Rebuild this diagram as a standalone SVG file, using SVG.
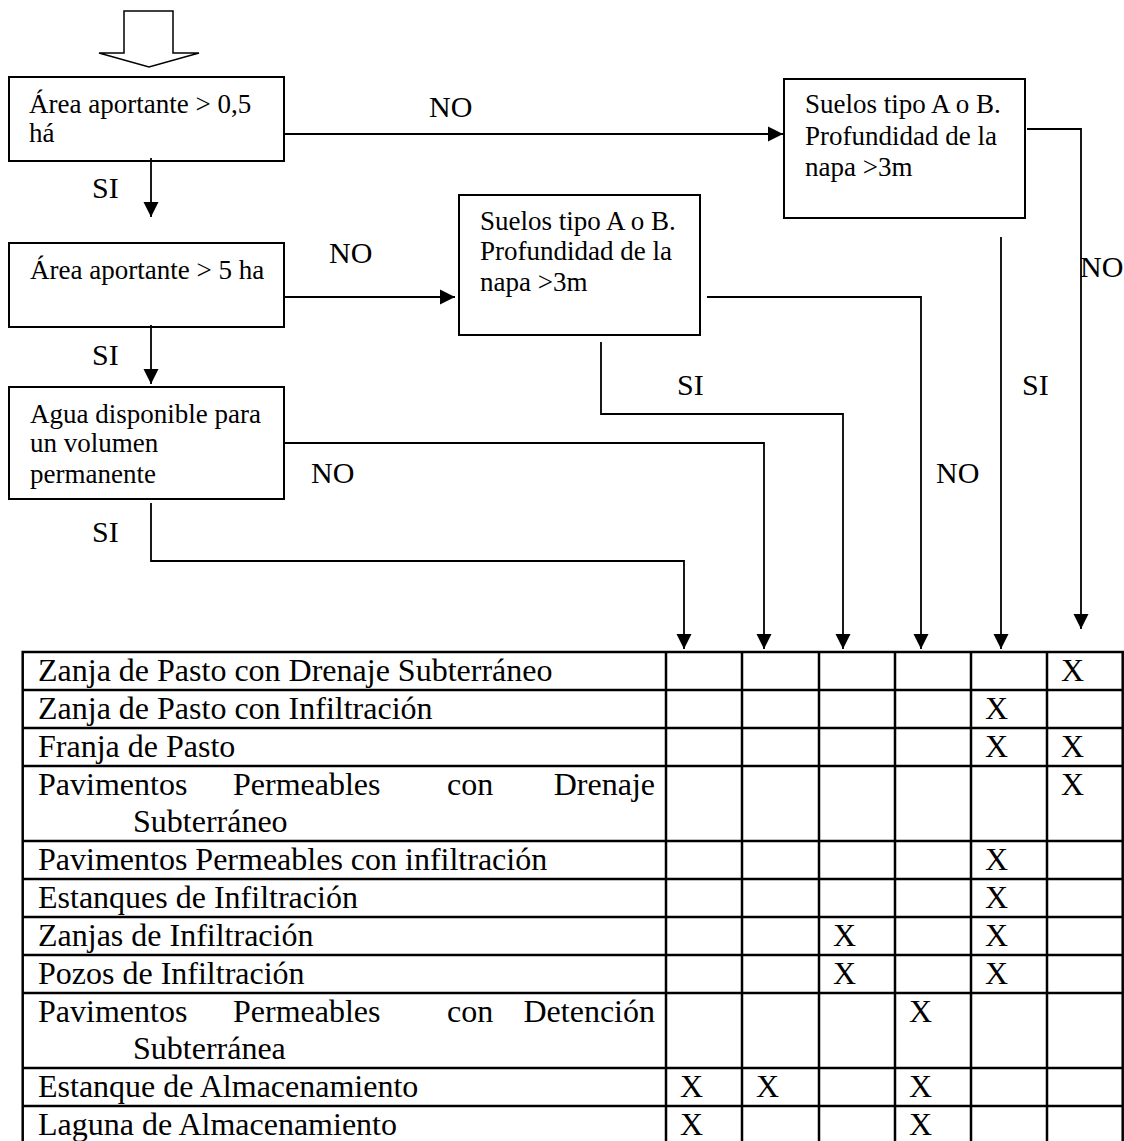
<svg xmlns="http://www.w3.org/2000/svg" width="1124" height="1141" viewBox="0 0 1124 1141">
<style>
text{font-family:"Liberation Serif","Times New Roman",serif;fill:#000}
.bt{font-size:27px}
.lb{font-size:30px}
.tt{font-size:32px}
.box{fill:#fff;stroke:#000;stroke-width:2}
.cn{fill:none;stroke:#000;stroke-width:1.8}
.tb{fill:none;stroke:#000;stroke-width:2.5}
</style>
<defs>
<marker id="ah" markerWidth="16" markerHeight="16" viewBox="0 0 16 16" refX="15" refY="8" orient="auto" markerUnits="userSpaceOnUse">
<path d="M0,0.5 L15,8 L0,15.5 Z" fill="#000"/>
</marker>
</defs>
<g id="start">
<polygon points="124,11 173,11 173,53 199,53 149,67 99,53 124,53" fill="#fff" stroke="#000" stroke-width="1.5"/>
</g>
<g id="n1">
<rect class="box" x="9" y="77" width="275" height="84"/>
<text class="bt" x="29" y="113">Área aportante &gt; 0,5</text>
<text class="bt" x="29" y="142">há</text>
</g>
<g id="n2">
<rect class="box" x="9" y="243" width="275" height="84"/>
<text class="bt" x="30" y="279">Área aportante &gt; 5 ha</text>
</g>
<g id="n3">
<rect class="box" x="9" y="387" width="275" height="112"/>
<text class="bt" x="30" y="423">Agua disponible para</text>
<text class="bt" x="30" y="452">un volumen</text>
<text class="bt" x="30" y="483">permanente</text>
</g>
<g id="n4">
<rect class="box" x="459" y="195" width="241" height="140"/>
<text class="bt" x="480" y="230">Suelos tipo A o B.</text>
<text class="bt" x="480" y="260">Profundidad de la</text>
<text class="bt" x="480" y="291">napa &gt;3m</text>
</g>
<g id="n5">
<rect class="box" x="784" y="79" width="241" height="139"/>
<text class="bt" x="805" y="113">Suelos tipo A o B.</text>
<text class="bt" x="805" y="145">Profundidad de la</text>
<text class="bt" x="805" y="176">napa &gt;3m</text>
</g>
<g id="connectors">
<polyline class="cn" points="284,134 783,134" marker-end="url(#ah)"/>
<polyline class="cn" points="151,158 151,217" marker-end="url(#ah)"/>
<polyline class="cn" points="284,297 455,297" marker-end="url(#ah)"/>
<polyline class="cn" points="151,325 151,384" marker-end="url(#ah)"/>
<polyline class="cn" points="284,443 764,443 764,649" marker-end="url(#ah)"/>
<polyline class="cn" points="151,503 151,561 684,561 684,649" marker-end="url(#ah)"/>
<polyline class="cn" points="601,342 601,414 843,414 843,649" marker-end="url(#ah)"/>
<polyline class="cn" points="707,297 921,297 921,649" marker-end="url(#ah)"/>
<polyline class="cn" points="1001,237 1001,649" marker-end="url(#ah)"/>
<polyline class="cn" points="1027,129 1081,129 1081,629" marker-end="url(#ah)"/>
<text class="lb" x="429" y="117">NO</text>
<text class="lb" x="92" y="198">SI</text>
<text class="lb" x="329" y="263">NO</text>
<text class="lb" x="92" y="365">SI</text>
<text class="lb" x="311" y="483">NO</text>
<text class="lb" x="92" y="542">SI</text>
<text class="lb" x="677" y="395">SI</text>
<text class="lb" x="936" y="483">NO</text>
<text class="lb" x="1022" y="395">SI</text>
<text class="lb" x="1080" y="277">NO</text>
</g>
<g id="table">
<rect class="tb" x="22.7" y="652" width="1100" height="492"/>
<path class="tb" d="M666,652V1144M742,652V1144M819,652V1144M895,652V1144M971,652V1144M1047,652V1144"/>
<path class="tb" d="M22.7,690H1123M22.7,728H1123M22.7,766H1123M22.7,841H1123M22.7,879H1123M22.7,917H1123M22.7,955H1123M22.7,993H1123M22.7,1068H1123M22.7,1106H1123"/>
<text class="tt" x="38" y="681">Zanja de Pasto con Drenaje Subterráneo</text>
<text class="tt" x="38" y="719">Zanja de Pasto con Infiltración</text>
<text class="tt" x="38" y="757">Franja de Pasto</text>
<text class="tt" x="38" y="795">Pavimentos</text>
<text class="tt" x="233" y="795">Permeables</text>
<text class="tt" x="447" y="795">con</text>
<text class="tt" x="655" y="795" text-anchor="end">Drenaje</text>
<text class="tt" x="133" y="832">Subterráneo</text>
<text class="tt" x="38" y="870">Pavimentos Permeables con infiltración</text>
<text class="tt" x="38" y="908">Estanques de Infiltración</text>
<text class="tt" x="38" y="946">Zanjas de Infiltración</text>
<text class="tt" x="38" y="984">Pozos de Infiltración</text>
<text class="tt" x="38" y="1022">Pavimentos</text>
<text class="tt" x="233" y="1022">Permeables</text>
<text class="tt" x="447" y="1022">con</text>
<text class="tt" x="655" y="1022" text-anchor="end">Detención</text>
<text class="tt" x="133" y="1059">Subterránea</text>
<text class="tt" x="38" y="1097">Estanque de Almacenamiento</text>
<text class="tt" x="38" y="1135">Laguna de Almacenamiento</text>
<text class="tt" x="1061" y="681">X</text>
<text class="tt" x="985" y="719">X</text>
<text class="tt" x="985" y="757">X</text>
<text class="tt" x="1061" y="757">X</text>
<text class="tt" x="1061" y="795">X</text>
<text class="tt" x="985" y="870">X</text>
<text class="tt" x="985" y="908">X</text>
<text class="tt" x="833" y="946">X</text>
<text class="tt" x="985" y="946">X</text>
<text class="tt" x="833" y="984">X</text>
<text class="tt" x="985" y="984">X</text>
<text class="tt" x="909" y="1022">X</text>
<text class="tt" x="680" y="1097">X</text>
<text class="tt" x="756" y="1097">X</text>
<text class="tt" x="909" y="1097">X</text>
<text class="tt" x="680" y="1135">X</text>
<text class="tt" x="909" y="1135">X</text>
</g>
</svg>
